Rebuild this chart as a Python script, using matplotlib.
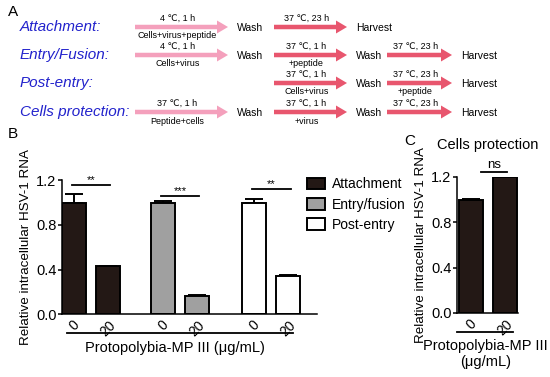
import matplotlib
matplotlib.use("Agg")
import matplotlib.pyplot as plt
from matplotlib.patches import Patch

plt.rcParams['font.family'] = ['Liberation Sans', 'DejaVu Sans']
plt.rcParams['axes.linewidth'] = 1.1

# ---- data ----
row_labels = ["Attachment:", "Entry/Fusion:", "Post-entry:", "Cells protection:"]
# each step: (slot, text above, text below); slot 0 = first arrow
row_steps = [
    [(0, "4 \u2103, 1 h", "Cells+virus+peptide"), (1, "37 \u2103, 23 h", "")],
    [(0, "4 \u2103, 1 h", "Cells+virus"), (1, "37 \u2103, 1 h", "+peptide"), (2, "37 \u2103, 23 h", "")],
    [(1, "37 \u2103, 1 h", "Cells+virus"), (2, "37 \u2103, 23 h", "+peptide")],
    [(0, "37 \u2103, 1 h", "Peptide+cells"), (1, "37 \u2103, 1 h", "+virus"), (2, "37 \u2103, 23 h", "")],
]

groups = ["Attachment", "Entry/fusion", "Post-entry"]
doses = ["0", "20"]
means_b = [[1.0, 0.43], [1.0, 0.165], [1.0, 0.345]]
errs_b = [[0.08, 0.005], [0.015, 0.008], [0.035, 0.01]]
sig_b = ["**", "***", "**"]
sig_y_b = [1.16, 1.06, 1.12]

means_c = [1.0, 1.2]
errs_c = [0.008, 0.0]
sig_c = "ns"

bar_colors = ["#231815", "#a0a0a0", "white"]
pink = "#f4a0bc"
red = "#e8566e"

fig = plt.figure(figsize=(5.5, 3.77), dpi=100)

# ---- panel A (drawn in pixel coordinates) ----
axA = fig.add_axes([0, 0, 1, 1])
axA.set_xlim(0, 550)
axA.set_ylim(377, 0)
axA.axis("off")
axA.text(8, 12, "A", fontsize=11, va="center", ha="left")
slots = [(135, 228), (274, 347), (387, 452)]
row_y = [27, 55, 83, 112]
for label, steps, y in zip(row_labels, row_steps, row_y):
    axA.text(20, y, label, color="#2222cc", style="italic", fontsize=11,
             va="center", ha="left")
    for slot, top, bottom in steps:
        x0, x1 = slots[slot]
        col = pink if slot == 0 else red
        axA.arrow(x0, y, x1 - x0, 0, width=4.5, head_width=13, head_length=11,
                  length_includes_head=True, color=col, lw=0)
        xm = (x0 + x1) / 2 - 4
        axA.text(xm, y - 9, top, fontsize=6.5, ha="center", va="center")
        if bottom:
            axA.text(xm, y + 9, bottom, fontsize=6.5, ha="center", va="center")
        after = "Harvest" if slot == max(s[0] for s in steps) else "Wash"
        axA.text(x1 + 9, y + 1, after, fontsize=7.5, ha="left", va="center")
axA.text(8, 134, "B", fontsize=11, va="center", ha="left")
axA.text(404, 141, "C", fontsize=11, va="center", ha="left")

# ---- panel B ----
axB = fig.add_axes([62 / 550, 1 - 314 / 377, 255 / 550, 133.5 / 377])
pos_b = [[0.5, 1.9], [4.2, 5.6], [8.0, 9.4]]
for g in range(3):
    axB.bar(pos_b[g], means_b[g], width=1.0, color=bar_colors[g],
            edgecolor="black", linewidth=1.4, label=groups[g], zorder=2)
    axB.errorbar(pos_b[g], means_b[g], yerr=[[0, 0], errs_b[g]], fmt="none",
                 ecolor="black", elinewidth=1.4, capsize=6.5, capthick=1.4, zorder=1)
    axB.plot([pos_b[g][0] - 0.1, pos_b[g][1] + 0.1], [sig_y_b[g]] * 2,
             color="black", lw=1.3, clip_on=False)
    axB.text(sum(pos_b[g]) / 2, sig_y_b[g], sig_b[g], ha="center", va="bottom",
             fontsize=8)
axB.set_xlim(0, 10.6)
axB.set_ylim(0, 1.2)
axB.set_yticks([0, 0.4, 0.8, 1.2])
axB.set_yticklabels(["0.0", "0.4", "0.8", "1.2"], fontsize=10.5)
axB.set_xticks([p for pair in pos_b for p in pair])
axB.set_xticklabels(doses * 3, rotation=45, fontsize=10, ha="center", va="top")
axB.tick_params(axis="y", length=3, width=1.1, pad=1)
axB.tick_params(axis="x", length=0, pad=3)
axB.spines["top"].set_visible(False)
axB.spines["right"].set_visible(False)
axB.set_ylabel("Relative intracellular HSV-1 RNA", fontsize=9.6, labelpad=3)
axB.plot([0.2, 9.6], [-0.17, -0.17], color="black", lw=1.3, clip_on=False)
axB.text(4.7, -0.31, "Protopolybia-MP III (\u03bcg/mL)", ha="center", va="center",
         fontsize=10.5)
handles = [Patch(facecolor=c, edgecolor="black", linewidth=1.4) for c in bar_colors]
axB.legend(handles, groups, loc="upper left", bbox_to_anchor=(0.935, 1.075),
           frameon=False, fontsize=10, handlelength=1.3, handleheight=0.9,
           handletextpad=0.5, labelspacing=0.45, borderpad=0)

# ---- panel C ----
axC = fig.add_axes([457 / 550, 1 - 313 / 377, 61 / 550, 136 / 377])
pos_c = [0.58, 2.0]
axC.bar(pos_c, means_c, width=1.0, color=bar_colors[0], edgecolor="black",
        linewidth=1.4, zorder=2)
axC.errorbar(pos_c, means_c, yerr=[[0, 0], errs_c], fmt="none", ecolor="black",
             elinewidth=1.4, capsize=6.5, capthick=1.4, zorder=1)
axC.plot([1.0, 2.1], [1.245, 1.245], color="black", lw=1.3, clip_on=False)
axC.text(1.55, 1.255, sig_c, ha="center", va="bottom", fontsize=9.5)
axC.set_xlim(0, 2.54)
axC.set_ylim(0, 1.2)
axC.set_yticks([0, 0.4, 0.8, 1.2])
axC.set_yticklabels(["0.0", "0.4", "0.8", "1.2"], fontsize=10.5)
axC.set_xticks(pos_c)
axC.set_xticklabels(doses, rotation=45, fontsize=10, ha="center", va="top")
axC.tick_params(axis="y", length=3, width=1.1, pad=1)
axC.tick_params(axis="x", length=0, pad=3)
axC.spines["top"].set_visible(False)
axC.spines["right"].set_visible(False)
axC.set_ylabel("Relative intracellular HSV-1 RNA", fontsize=9.6, labelpad=3)
axC.set_title("Cells protection", fontsize=10.5, pad=20)
axC.plot([0.0, 2.35], [-0.17, -0.17], color="black", lw=1.3, clip_on=False)
axC.text(1.2, -0.23, "Protopolybia-MP III\n(\u03bcg/mL)", ha="center", va="top",
         fontsize=10.5, linespacing=1.15)

fig.savefig("out.png", dpi=100)
